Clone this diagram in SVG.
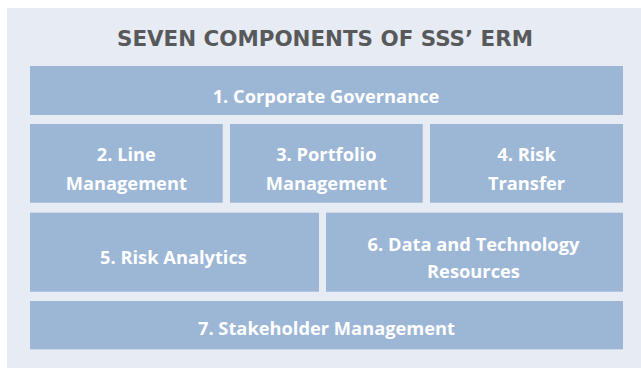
<svg xmlns="http://www.w3.org/2000/svg" width="641" height="369" viewBox="0 0 641 369">
  <style>
    .panel { fill: #e7ebf3; }
    .box { fill: #9cb6d6; }
    .title { font-family: "DejaVu Sans", "Liberation Sans", sans-serif; font-weight: 700; font-size: 21.5px; fill: #58595b; }
    .label { font-family: "Open Sans", Lato, "Liberation Sans", sans-serif; font-weight: 700; font-size: 18.3px; fill: #ffffff; text-anchor: middle; }
  </style>
  <rect width="641" height="369" fill="#ffffff"/>
  <rect class="panel" x="7" y="8" width="634" height="360"/>
  <text class="title" x="117" y="45.7" textLength="416" lengthAdjust="spacingAndGlyphs">SEVEN COMPONENTS OF SSS’ ERM</text>

  <g id="n1">
    <rect class="box" x="30" y="66" width="593" height="49"/>
    <text class="label" x="326" y="103.3">1. Corporate Governance</text>
  </g>
  <g id="n2">
    <rect class="box" x="30" y="124" width="192.7" height="78.7"/>
    <text class="label" x="126.3" y="161">2. Line</text>
    <text class="label" x="126.3" y="190">Management</text>
  </g>
  <g id="n3">
    <rect class="box" x="230" y="124" width="192.7" height="78.7"/>
    <text class="label" x="326.3" y="161">3. Portfolio</text>
    <text class="label" x="326.3" y="190">Management</text>
  </g>
  <g id="n4">
    <rect class="box" x="430" y="124" width="193" height="78.7"/>
    <text class="label" x="526.5" y="161">4. Risk</text>
    <text class="label" x="526.5" y="190">Transfer</text>
  </g>
  <g id="n5">
    <rect class="box" x="30" y="212.7" width="289" height="79"/>
    <text class="label" x="173.5" y="264">5. Risk Analytics</text>
  </g>
  <g id="n6">
    <rect class="box" x="326" y="212.7" width="297" height="79"/>
    <text class="label" x="473.5" y="250.7">6. Data and Technology</text>
    <text class="label" x="473.5" y="278.3">Resources</text>
  </g>
  <g id="n7">
    <rect class="box" x="30" y="301" width="593" height="48.3"/>
    <text class="label" x="326.5" y="335">7. Stakeholder Management</text>
  </g>
  <g id="connectors"></g>
</svg>
